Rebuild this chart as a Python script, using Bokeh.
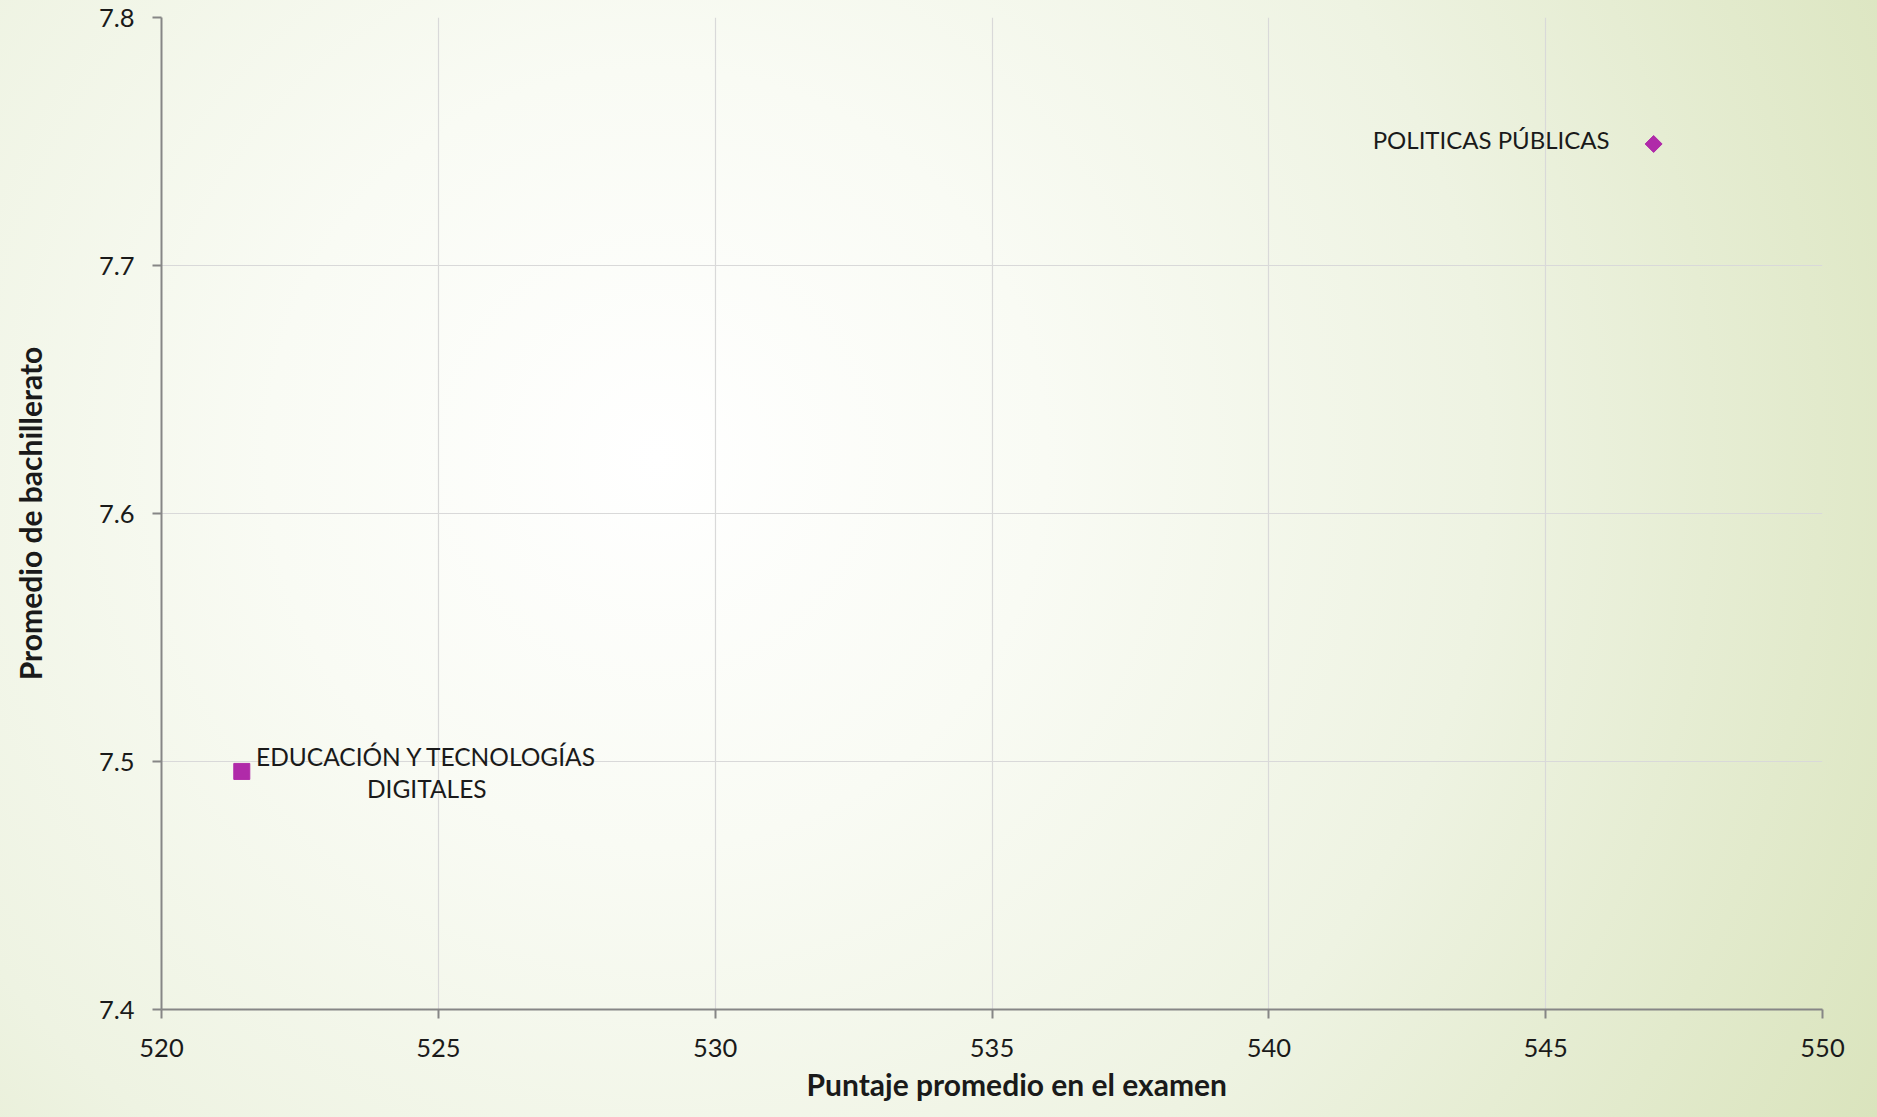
from bokeh.plotting import figure
from bokeh.models import ColumnDataSource, Range1d, FixedTicker, InlineStyleSheet, Title
from bokeh.core.properties import value
from bokeh.embed import file_html
from bokeh.resources import INLINE
import math

# ---- data ----
prog_a = ["POLITICAS PÚBLICAS"]
puntaje_a = [546.95]
promedio_a = [7.749]

prog_b = ["EDUCACIÓN Y TECNOLOGÍAS\nDIGITALES"]
puntaje_b = [521.45]
promedio_b = [7.496]

x_ticks = [520, 525, 530, 535, 540, 545, 550]
y_ticks = [7.4, 7.5, 7.6, 7.7, 7.8]
x_title = "Puntaje promedio en el examen"
y_title = "Promedio de bachillerato"

FONT = "Lato"
MAG = "#b02aa9"
AXC = "#868686"

W, H = 1877, 1117
p = figure(width=W, height=H, output_backend="svg", toolbar_location=None,
           x_range=Range1d(520, 550), y_range=Range1d(7.4, 7.8),
           min_border_left=161, min_border_right=W - 1822,
           min_border_top=17, min_border_bottom=H - 1009)
p.background_fill_color = None
p.border_fill_color = None
p.outline_line_color = None
p.stylesheets = [InlineStyleSheet(css=":host { background: radial-gradient(circle farthest-corner at 35% 41%, #ffffff 0%, #f9fbf4 28%, #eef3e2 60%, #dae4bd 100%); }")]

for ax, ticks in ((p.xaxis, x_ticks), (p.yaxis, y_ticks)):
    ax.ticker = FixedTicker(ticks=ticks)
    ax.axis_line_color = AXC
    ax.axis_line_width = 2
    ax.major_tick_line_color = AXC
    ax.major_tick_line_width = 2
    ax.major_tick_out = 9
    ax.major_tick_in = 0
    ax.minor_tick_line_color = None
    ax.major_label_text_font = FONT
    ax.major_label_text_font_size = "25.5px"
    ax.major_label_text_color = "#1a1a1a"
p.xaxis.major_label_standoff = 20
p.yaxis.major_label_standoff = 18

p.yaxis.axis_label = y_title
p.yaxis.axis_label_text_font = FONT
p.yaxis.axis_label_text_font_size = "30px"
p.yaxis.axis_label_text_font_style = "bold"
p.yaxis.axis_label_text_color = "#1a1a1a"
p.yaxis.axis_label_standoff = 48

p.add_layout(Title(text=x_title, align="left", offset=645, vertical_align="middle",
                   text_font=FONT, text_font_size="30px", text_font_style="bold",
                   text_color="#1a1a1a", standoff=10), "below")

for g in (p.xgrid, p.ygrid):
    g.grid_line_color = "#d9d9d9"
    g.grid_line_width = 1.2

src_a = ColumnDataSource(dict(x=puntaje_a, y=promedio_a, t=prog_a))
src_b = ColumnDataSource(dict(x=puntaje_b, y=promedio_b, t=prog_b))

p.scatter("x", "y", source=src_a, marker="square", size=12, angle=math.pi / 4,
          fill_color=MAG, line_color=MAG)
p.scatter("x", "y", source=src_b, marker="square", size=16,
          fill_color=MAG, line_color=MAG)

p.text("x", "y", text="t", source=src_a, text_font=value(FONT),
       text_font_size="24px", text_color="#1a1a1a", text_align="right",
       text_baseline="middle", x_offset=-44, y_offset=-4)
p.text("x", "y", text="t", source=src_b, text_font=value(FONT),
       text_font_size="24.5px", text_color="#1a1a1a", text_align="center",
       text_baseline="middle", x_offset=185, y_offset=1, text_line_height=1.13)

open("out.html", "w").write(file_html(p, INLINE))
